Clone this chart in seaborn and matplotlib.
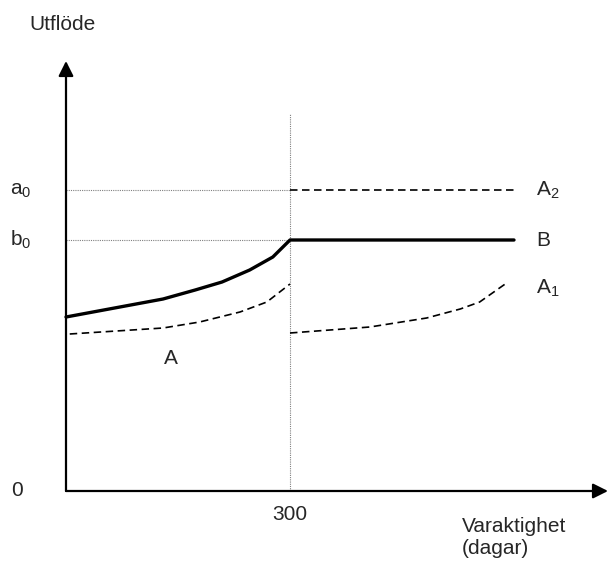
import numpy as np
import matplotlib.pyplot as plt
import seaborn as sns
import pandas as pd

# -------------------- Data (days, arbitrary flow units) --------------------
b_days = [0, 130, 173, 209, 246, 277, 300, 600]
b_flow = [174, 192, 201, 209, 221, 234, 251, 251]

a_days = [5, 130, 179, 233, 269, 300]
a_flow = [157, 163, 169, 179, 189, 207]

a1_days = [300, 407, 483, 528, 554, 592]
a1_flow = [158, 164, 173, 182, 189, 209]

a2_days = [300, 600]
a2_flow = [301, 301]

a0_level = 301
b0_level = 251
t_split = 300

# -------------------- Style --------------------
sns.set_style("white")
plt.rcParams['font.family'] = ['Liberation Sans', 'DejaVu Sans']
plt.rcParams['mathtext.default'] = 'regular'

# pixel -> data mapping: origin at (66, 491), 0.7467 px per day
px_per_day = (290 - 66) / 300
fig = plt.figure(figsize=(6.1, 5.63), dpi=100)
ax = fig.add_axes([0, 0, 1, 1])
ax.set_xlim(-66 / px_per_day, (610 - 66) / px_per_day)
ax.set_ylim(-72, 491)
ax.axis("off")

dotted = dict(color="#808080", lw=0.8, linestyle=(0, (1, 1)))
dashed = (0, (4.5, 2.7))

# guide lines
ax.plot([0, t_split], [a0_level, a0_level], **dotted)
ax.plot([0, t_split], [b0_level, b0_level], **dotted)
ax.plot([t_split, t_split], [0, 377], **dotted)

# curves
sns.lineplot(x=b_days, y=b_flow, ax=ax, color="black", lw=2.4)
sns.lineplot(x=a_days, y=a_flow, ax=ax, color="black", lw=1.2, linestyle=dashed)
sns.lineplot(x=a1_days, y=a1_flow, ax=ax, color="black", lw=1.2, linestyle=dashed)
sns.lineplot(x=a2_days, y=a2_flow, ax=ax, color="black", lw=1.2, linestyle=dashed)

# axes with arrows
arrow = dict(arrowstyle="-|>,head_length=0.9,head_width=0.45", color="black", lw=1.6,
             shrinkA=0, shrinkB=0)
ax.annotate("", xy=(0, 430), xytext=(0, 0), arrowprops=arrow)
ax.annotate("", xy=((608 - 66) / px_per_day, 0), xytext=(0, 0), arrowprops=arrow)

# labels
fs = 15
ax.text(-49, 466, "Utflöde", fontsize=fs, va="center", ha="left")
ax.text(-75, a0_level, "a$_0$", fontsize=fs, va="center", ha="left")
ax.text(-75, b0_level, "b$_0$", fontsize=fs, va="center", ha="left")
ax.text(-65, 0, "0", fontsize=fs, va="center", ha="center")
ax.text(t_split, -23, "300", fontsize=fs, va="center", ha="center")
ax.text((462 - 66) / px_per_day, -36, "Varaktighet", fontsize=fs, va="center", ha="left")
ax.text((462 - 66) / px_per_day, -58, "(dagar)", fontsize=fs, va="center", ha="left")
ax.text(140, 133, "A", fontsize=fs, va="center", ha="center")
ax.text(630, 301, "A$_2$", fontsize=fs, va="center", ha="left")
ax.text(630, 251, "B", fontsize=fs, va="center", ha="left")
ax.text(630, 203, "A$_1$", fontsize=fs, va="center", ha="left")

plt.savefig("out.png", dpi=100)
